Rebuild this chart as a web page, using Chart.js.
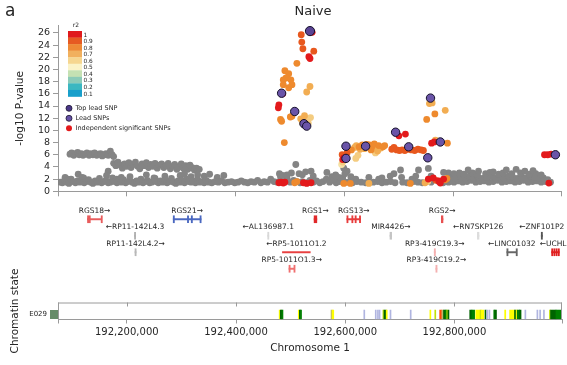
<!DOCTYPE html>
<html lang="en">
<head>
<meta charset="UTF-8">
<title>Naive</title>
<script src="https://cdn.jsdelivr.net/npm/chart.js"></script>
<style>
  body { margin: 0; background: #fff; }
  #wrap { position: relative; width: 567px; height: 365px; overflow: hidden; }
  canvas { position: absolute; left: 0; }
</style>
</head>
<body>
<div id="wrap">
  <canvas id="stateChart" width="567" height="115" style="top:250px"></canvas>
  <canvas id="geneChart" width="567" height="84" style="top:196px"></canvas>
  <canvas id="assocChart" width="567" height="200" style="top:0"></canvas>
</div>
<script>
// positions are in kb on chromosome 1
const X_MIN = 192074, X_MAX = 192997;
const xTickValues = [192200, 192400, 192600, 192800];
const yTickValues = [0, 2, 4, 6, 8, 10, 12, 14, 16, 18, 20, 22, 24, 26];

// [kb, -log10 P]
const topLeadSnp = [[192536, 26.3]];
const leadSnps = [[192484, 16.1], [192508, 13.1], [192525, 11.1], [192530, 10.7], [192602, 7.4], [192602, 5.4],
  [192638, 7.4], [192693, 9.7], [192717, 7.3], [192752, 5.5], [192757, 15.3], [192775, 8.1], [192986, 6.0]];
const r2_10 = [[192538, 26.2], [192540, 26.1], [192534, 22.1], [192536, 21.8], [192486, 16.0], [192479, 14.2],
  [192478, 13.7], [192479, 1.4], [192483, 1.5], [192487, 1.35], [192490, 1.5], [192524, 1.4], [192530, 1.3],
  [192538, 1.4], [192598, 5.5], [192596, 5.2], [192699, 9.1], [192711, 9.4], [192759, 7.9], [192764, 8.1],
  [192753, 2.0], [192762, 2.2], [192781, 2.0], [192775, 1.35], [192772, 1.7], [192966, 6.0], [192972, 6.0],
  [192978, 6.1], [192974, 1.35]];
const r2_09 = [[192520, 25.7], [192521, 24.5], [192523, 23.4], [192543, 23.0], [192686, 6.9], [192690, 7.2],
  [192695, 6.8], [192700, 6.7], [192705, 6.8], [192710, 6.7], [192716, 6.9], [192722, 6.8], [192728, 6.7],
  [192734, 6.9], [192740, 6.8], [192744, 6.7], [192604, 6.3], [192595, 6.0], [192767, 1.8], [192600, 5.8]];
const r2_08 = [[192512, 21.0], [192490, 19.8], [192497, 19.3], [192492, 18.6], [192501, 18.3], [192487, 18.3],
  [192487, 17.5], [192503, 17.5], [192497, 17.0], [192482, 11.8], [192484, 11.5], [192500, 12.2], [192503, 12.3],
  [192489, 8.0], [192612, 6.8], [192626, 7.3], [192632, 7.6], [192640, 7.7], [192645, 7.6], [192650, 7.4],
  [192654, 7.8], [192662, 7.5], [192670, 7.3], [192673, 7.5], [192648, 6.8], [192765, 12.7], [192750, 11.8],
  [192788, 7.9], [192508, 1.4], [192512, 1.6], [192598, 1.3], [192610, 1.3], [192720, 1.3], [192787, 2.1],
  [192784, 1.9]];
const r2_07 = [[192536, 17.2], [192530, 16.3], [192519, 11.9], [192526, 12.4], [192618, 7.2], [192621, 7.5],
  [192658, 7.2], [192666, 7.1], [192636, 7.0], [192628, 6.9], [192660, 6.6], [192755, 14.4], [192760, 14.5],
  [192766, 8.4], [192644, 1.3], [192747, 1.4], [192784, 13.3]];
const r2_06 = [[192522, 11.3], [192537, 12.1], [192533, 11.2], [192528, 11.8], [192620, 5.4], [192624, 5.9],
  [192656, 6.3], [192596, 4.8], [192752, 1.6]];
const r2_05 = [[192594, 4.4]];
const otherSnps = [
  [192096, 6.1], [192099, 6.3], [192103, 5.9], [192106, 6.2], [192110, 6.4], [192113, 6.0], [192117, 6.2],
  [192120, 5.9], [192124, 6.1], [192127, 6.3], [192131, 5.9], [192134, 6.2], [192138, 6.0], [192141, 6.3],
  [192145, 5.9], [192148, 6.1], [192152, 6.2], [192155, 5.8], [192159, 6.0], [192162, 6.2], [192166, 5.9],
  [192170, 6.6], [192173, 6.0], [192176, 5.7],
  [192176, 4.6], [192180, 4.2], [192184, 4.8], [192188, 4.3], [192192, 3.8], [192196, 4.5], [192200, 4.1],
  [192204, 4.7], [192208, 3.9], [192212, 4.4], [192216, 4.8], [192220, 4.1], [192224, 3.7], [192228, 4.5],
  [192232, 4.2], [192236, 4.7], [192240, 3.9], [192244, 4.4], [192248, 4.1], [192252, 4.6], [192256, 3.8],
  [192260, 4.3], [192264, 4.5], [192268, 3.9], [192272, 4.2], [192276, 4.6], [192280, 3.7], [192284, 4.1],
  [192288, 4.4], [192292, 3.6], [192296, 4.0], [192300, 4.5], [192304, 3.8], [192308, 4.2], [192312, 3.6],
  [192316, 4.3], [192320, 3.9], [192324, 3.5], [192328, 3.8], [192333, 3.6],
  [192087, 2.3], [192092, 2.0], [192111, 2.8], [192121, 2.2], [192166, 3.3], [192163, 2.6], [192182, 2.0],
  [192190, 2.3], [192236, 2.7], [192252, 2.1], [192270, 2.5], [192298, 2.6], [192306, 2.9], [192318, 2.4],
  [192330, 2.7], [192342, 2.5], [192352, 2.8], [192366, 2.3], [192378, 2.6],
  [192078, 1.5], [192082, 1.4], [192086, 1.8], [192090, 1.5], [192094, 1.3], [192098, 2.0], [192102, 1.6],
  [192106, 1.4], [192110, 1.7], [192114, 1.5], [192118, 2.3], [192122, 1.4], [192126, 1.6], [192130, 1.9],
  [192134, 1.5], [192138, 1.3], [192142, 1.7], [192146, 1.5], [192150, 2.1], [192154, 1.4], [192158, 1.6],
  [192162, 1.8], [192166, 1.4], [192170, 1.5], [192174, 2.2], [192178, 1.6], [192182, 1.4], [192186, 1.7],
  [192190, 1.5], [192194, 1.9], [192198, 1.4], [192202, 1.6], [192206, 2.4], [192210, 1.5], [192214, 1.3],
  [192218, 1.7], [192222, 1.5], [192226, 2.0], [192230, 1.4], [192234, 1.6], [192238, 1.8], [192242, 1.4],
  [192246, 1.5], [192250, 2.2], [192254, 1.6], [192258, 1.4], [192262, 1.7], [192266, 1.5], [192270, 1.9],
  [192274, 1.4], [192278, 1.6], [192282, 2.1], [192286, 1.5], [192290, 1.3], [192294, 1.7], [192298, 1.5],
  [192302, 1.8], [192306, 1.4], [192310, 2.0], [192314, 1.6], [192318, 1.5], [192322, 1.7], [192326, 1.4],
  [192330, 1.9], [192334, 1.5], [192338, 1.6], [192342, 1.4], [192346, 1.8], [192350, 1.5], [192356, 1.4],
  [192362, 1.6], [192368, 1.5], [192374, 1.7], [192380, 1.4], [192386, 1.5], [192392, 1.6], [192398, 1.4],
  [192404, 1.5], [192410, 1.7], [192416, 1.5], [192422, 1.4], [192428, 1.6], [192434, 1.5], [192440, 1.8],
  [192446, 1.4], [192452, 1.6], [192458, 1.5], [192464, 2.0], [192470, 1.6], [192476, 1.5], [192482, 2.4],
  [192488, 1.6], [192494, 2.1], [192500, 1.5], [192506, 1.8], [192512, 1.6], [192518, 1.4],
  [192480, 2.9], [192486, 2.6], [192494, 2.7], [192502, 3.0], [192510, 4.4], [192516, 2.9], [192522, 2.7],
  [192528, 3.2], [192538, 3.3], [192542, 2.5],
  [192522, 1.6], [192530, 1.4], [192536, 1.8], [192542, 1.5], [192548, 1.7], [192554, 1.4], [192560, 1.6],
  [192566, 2.0], [192572, 1.5], [192578, 1.8], [192584, 1.4], [192590, 1.6], [192596, 2.2], [192600, 1.5],
  [192567, 3.1], [192576, 2.4], [192583, 2.7], [192589, 2.3], [192598, 3.8], [192604, 3.3], [192600, 2.9],
  [192580, 2.0], [192584, 2.5], [192611, 2.4], [192620, 2.0], [192644, 2.3], [192662, 2.0], [192668, 2.2],
  [192683, 2.5], [192690, 2.9], [192702, 3.5], [192704, 2.3], [192723, 2.0], [192730, 2.5], [192735, 3.5],
  [192753, 3.75], [192758, 2.5], [192790, 3.0], [192799, 2.5],
  [192606, 1.5], [192614, 1.4], [192622, 1.6], [192630, 1.5], [192638, 1.4], [192652, 1.5], [192660, 1.6],
  [192668, 1.4], [192676, 1.5], [192684, 1.6], [192692, 1.4], [192706, 1.5], [192714, 1.4], [192726, 1.6],
  [192734, 1.5], [192742, 1.4], [192758, 1.5], [192772, 1.6], [192780, 1.4], [192790, 1.5],
  [192792, 1.6], [192800, 1.5], [192808, 1.7], [192816, 1.5], [192824, 1.6], [192832, 1.8], [192840, 1.5],
  [192848, 1.6], [192856, 1.7], [192864, 1.5], [192872, 1.6], [192880, 1.8], [192888, 1.5], [192896, 1.6],
  [192904, 1.7], [192912, 1.5], [192920, 1.6], [192928, 1.8], [192936, 1.5], [192944, 1.6], [192952, 1.7],
  [192960, 1.5], [192968, 1.6], [192977, 1.5],
  [192796, 2.3], [192804, 2.1], [192812, 2.4], [192820, 2.2], [192828, 2.5], [192836, 2.2], [192844, 2.4],
  [192852, 2.1], [192860, 2.3], [192868, 2.5], [192876, 2.2], [192884, 2.4], [192892, 2.2], [192900, 2.5],
  [192908, 2.3], [192916, 2.1], [192924, 2.4], [192932, 2.2], [192940, 2.5], [192948, 2.3], [192956, 2.1],
  [192964, 2.2], [192972, 1.9],
  [192800, 2.9], [192810, 3.0], [192818, 2.8], [192834, 3.0], [192842, 2.8], [192858, 2.9], [192866, 3.1],
  [192882, 2.8], [192890, 3.0], [192906, 2.9], [192922, 3.0], [192938, 2.8], [192950, 2.9], [192960, 2.7],
  [192781, 3.1], [192826, 3.5], [192845, 3.3], [192872, 3.2], [192896, 3.5], [192914, 3.6], [192930, 3.3],
  [192945, 3.4]
];

const r2Labels = ['1', '0.9', '0.8', '0.7', '0.6', '0.5', '0.4', '0.3', '0.2', '0.1'];
const r2Colors = ['#e0191c', '#e65a22', '#ee8a36', '#f1b05e', '#f6d690', '#fbf3c8', '#c5e1b3', '#8ccbb8', '#3bb7c1', '#189fcb'];
const legendLabels = ['Top lead SNP', 'Lead SNPs', 'Independent significant SNPs'];

// genes: label, start, end (kb), track row
const geneNames = ['RGS18→', 'RGS21→', 'RGS1→', 'RGS13→', 'RGS2→', '←RP11-142L4.3', '←AL136987.1', 'MIR4426→',
  '←RN7SKP126', '←ZNF101P2', 'RP11-142L4.2→', '←RP5-1011O1.2', 'RP3-419C19.3→', '←LINC01032', '←UCHL1',
  'RP5-1011O1.3→', 'RP3-419C19.2→'];
const geneStart = [192128, 192285, 192543, 192603, 192776, 192214, 192458, 192682, 192842, 192959, 192215,
  192485, 192763, 192896, 192978, 192497, 192766];
const geneEnd = [192154, 192336, 192548, 192628, 192779, 192216, 192460, 192685, 192845, 192961, 192217,
  192536, 192765, 192914, 192992, 192507, 192768];
const geneRow = [1, 1, 1, 1, 1, 2, 2, 2, 2, 2, 3, 3, 3, 3, 3, 4, 4];
const geneColor = ['#e85c5c', '#4a68c0', '#e0282a', '#e83c3c', '#e85050', '#b0b0b0', '#d8d8d8', '#c4c4c4',
  '#dcdcdc', '#555555', '#b8b8b8', '#e84040', '#f4b0b0', '#666666', '#e02020', '#f07070', '#f4b0b0'];
// exons: [gene index, start, end]
const exons = [[0, 192128, 192129], [0, 192131, 192132], [0, 192153, 192154],
  [1, 192285, 192286], [1, 192311, 192312], [1, 192318, 192319], [1, 192334, 192336],
  [2, 192543, 192548], [3, 192603, 192605], [3, 192612, 192614], [3, 192618, 192619], [3, 192626, 192628],
  [4, 192776, 192779], [5, 192214, 192216], [6, 192458, 192460], [7, 192682, 192685], [8, 192842, 192845],
  [9, 192959, 192961], [10, 192215, 192217], [12, 192763, 192765], [13, 192896, 192897], [13, 192913, 192914],
  [14, 192978, 192980], [14, 192982, 192984], [14, 192986, 192987], [14, 192990, 192992],
  [15, 192497, 192498], [15, 192506, 192507], [16, 192766, 192768]];

// chromatin state segments (E029)
const trackLabel = 'E029';
const stateStart = [192479, 192481, 192484, 192514, 192516, 192518, 192574, 192576, 192634, 192655, 192659, 192662,
  192669, 192671, 192675, 192682, 192719, 192755, 192764, 192773, 192777, 192780, 192783, 192786, 192788,
  192828, 192832, 192839, 192847, 192849, 192856, 192859, 192863, 192872, 192874, 192892, 192901, 192910,
  192913, 192915, 192919, 192929, 192951, 192956, 192963, 192974, 192976, 192986];
const stateEnd = [192481, 192484, 192486, 192516, 192518, 192520, 192576, 192579, 192635, 192656, 192660, 192663,
  192671, 192675, 192677, 192683, 192720, 192756, 192765, 192777, 192780, 192783, 192786, 192788, 192790,
  192832, 192837, 192847, 192849, 192854, 192858, 192860, 192865, 192874, 192877, 192894, 192910, 192913,
  192915, 192919, 192922, 192930, 192952, 192957, 192964, 192976, 192986, 192997];
const stateName = ['Enh', 'TxWk', 'Tx', 'Enh', 'TxWk', 'Tx', 'EnhBiv', 'Enh', 'Het', 'Het', 'Het', 'Het',
  'EnhG', 'TxWk', 'Enh', 'Het', 'Het', 'Enh', 'EnhG', 'TssAFlnk', 'EnhBiv', 'TxWk', 'Tx', 'EnhG', 'TxWk',
  'TxWk', 'Tx', 'Enh', 'EnhG', 'Enh', 'TxWk', 'Het', 'Het', 'Tx', 'TxWk', 'Enh', 'Enh', 'TxWk',
  'Enh', 'Tx', 'TxWk', 'Het', 'Het', 'Het', 'Het', 'EnhG', 'TxWk', 'Tx'];
const stateColors = { TssAFlnk: '#ff4500', Tx: '#008000', TxWk: '#006400', EnhG: '#c2e105', Enh: '#ffff00',
  EnhBiv: '#bdb76b', Het: '#b0b5e0' };

Chart.defaults.font.family = "'DejaVu Sans', sans-serif";
Chart.defaults.color = '#262626';
const AXIS = '#9a9a9a';
const TRACK_Y = 5;

function setXTicks(scale) {
    scale.ticks = [X_MIN, ...xTickValues, X_MAX].map(v => ({ value: v }));
}

function pts(list) {
    return list.map(p => ({ x: p[0], y: p[1] }));
}

function snpSet(list, color, radius, border) {
    return {
        data: pts(list),
        pointRadius: radius,
        pointBackgroundColor: color,
        pointBorderColor: border || color,
        pointBorderWidth: border ? 1 : 0
    };
}

// ---- association plot ----
const assocDecor = {
    id: 'assocDecor',
    afterDraw(chart) {
        const ctx = chart.ctx;
        ctx.save();
        ctx.fillStyle = '#262626';
        ctx.textBaseline = 'middle';
        ctx.textAlign = 'left';
        ctx.font = "17px 'DejaVu Sans'";
        ctx.fillText('a', 5, 12);
        ctx.textAlign = 'center';
        ctx.font = "13px 'DejaVu Sans'";
        ctx.fillText('Naive', 313, 12);

        // r2 colour bar
        ctx.font = "6px 'DejaVu Sans'";
        ctx.fillText('r2', 76, 25.5);
        const cell = 6.55;
        r2Colors.forEach((c, i) => {
            ctx.fillStyle = c;
            ctx.fillRect(68, 31 + i * cell, 14, cell + 0.3);
        });
        ctx.fillStyle = '#262626';
        ctx.textAlign = 'left';
        ctx.font = "5.8px 'DejaVu Sans'";
        r2Labels.forEach((t, i) => ctx.fillText(t, 83.5, 31 + i * cell + cell / 2 + 0.8));

        // marker legend
        const fills = ['#4a3787', '#6652a6', '#e31a1c'];
        ctx.font = "6.5px 'DejaVu Sans'";
        legendLabels.forEach((t, i) => {
            const y = 108.3 + i * 10;
            ctx.beginPath();
            ctx.arc(69, y, 3, 0, Math.PI * 2);
            ctx.fillStyle = fills[i];
            ctx.fill();
            if (i < 2) {
                ctx.lineWidth = 0.8;
                ctx.strokeStyle = '#1a1530';
                ctx.stroke();
            }
            ctx.fillStyle = '#262626';
            ctx.fillText(t, 75.5, y + 0.5);
        });
        ctx.restore();
    }
};

new Chart(document.getElementById('assocChart'), {
    type: 'scatter',
    data: {
        datasets: [
            snpSet(topLeadSnp, '#5a4494', 4.6, '#15102a'),
            snpSet(leadSnps, '#6a54a8', 4.2, '#15102a'),
            snpSet(r2_10, '#e31a1c', 3.4),
            snpSet(r2_09, '#e8581e', 3.4),
            snpSet(r2_08, '#ee8a2e', 3.4),
            snpSet(r2_07, '#f2ad52', 3.4),
            snpSet(r2_06, '#f4cc80', 3.4),
            snpSet(r2_05, '#f6e2a8', 3.4),
            snpSet(otherSnps, '#848484', 3.4)
        ]
    },
    options: {
        responsive: false,
        animation: false,
        layout: { padding: { top: 25.6, right: 5, left: 0, bottom: 0 } },
        plugins: { legend: { display: false }, tooltip: { enabled: false } },
        scales: {
            x: {
                type: 'linear',
                min: X_MIN,
                max: X_MAX,
                afterBuildTicks: setXTicks,
                ticks: { display: false },
                grid: { drawOnChartArea: false, tickLength: 5, color: AXIS },
                border: { color: AXIS },
                afterFit: s => { s.height = 7.7; }
            },
            y: {
                min: 0,
                max: 27.2,
                afterBuildTicks: s => { s.ticks = yTickValues.map(v => ({ value: v })); },
                ticks: { font: { size: 9.5 }, padding: 3, color: '#262626', autoSkip: false },
                grid: { drawOnChartArea: false, tickLength: 5, color: AXIS },
                border: { color: AXIS },
                title: { display: true, text: '-log10 P-value', font: { size: 10.5 }, padding: { top: 14, bottom: 0 } },
                afterFit: s => { s.width = 58; }
            }
        }
    },
    plugins: [assocDecor]
});

// ---- gene track ----
const geneLabelsPlugin = {
    id: 'geneLabels',
    afterDatasetsDraw(chart) {
        const { ctx, scales: { x, y } } = chart;
        ctx.save();
        ctx.font = "7.5px 'DejaVu Sans'";
        ctx.fillStyle = '#262626';
        ctx.textAlign = 'center';
        ctx.textBaseline = 'middle';
        geneNames.forEach((name, i) => {
            const cx = (x.getPixelForValue(geneStart[i]) + x.getPixelForValue(geneEnd[i])) / 2;
            ctx.fillText(name, cx, y.getPixelForValue(geneRow[i]) - 8.5);
        });
        ctx.restore();
    }
};

new Chart(document.getElementById('geneChart'), {
    type: 'bar',
    data: {
        datasets: [
            {
                data: geneStart.map((s, i) => ({ x: [s, geneEnd[i]], y: geneRow[i] })),
                backgroundColor: geneColor,
                barThickness: 1.3,
                minBarLength: 1,
                grouped: false
            },
            {
                data: exons.map(e => ({ x: [e[1], e[2]], y: geneRow[e[0]] })),
                backgroundColor: exons.map(e => geneColor[e[0]]),
                barThickness: 7,
                minBarLength: 1.2,
                grouped: false
            }
        ]
    },
    options: {
        indexAxis: 'y',
        responsive: false,
        animation: false,
        layout: { padding: { top: 15, bottom: 3, left: 58, right: 5 } },
        plugins: { legend: { display: false }, tooltip: { enabled: false } },
        scales: {
            x: { type: 'linear', min: X_MIN, max: X_MAX, display: false },
            y: { type: 'linear', min: 0.5, max: 4.5, reverse: true, offset: false, display: false }
        }
    },
    plugins: [geneLabelsPlugin]
});

// ---- chromatin state track ----
const stateFrame = {
    id: 'stateFrame',
    afterDraw(chart) {
        const { ctx, chartArea: a, scales: { x, y } } = chart;
        ctx.save();
        ctx.strokeStyle = AXIS;
        ctx.lineWidth = 1;
        ctx.beginPath();
        ctx.moveTo(a.left, a.top + 0.5);
        ctx.lineTo(a.right, a.top + 0.5);
        ctx.moveTo(a.left + 0.5, a.top);
        ctx.lineTo(a.left + 0.5, a.bottom);
        ctx.moveTo(a.right - 0.5, a.top);
        ctx.lineTo(a.right - 0.5, a.bottom);
        xTickValues.forEach(v => {
            const px = Math.round(x.getPixelForValue(v)) + 0.5;
            ctx.moveTo(px, a.top);
            ctx.lineTo(px, a.top + 4);
        });
        ctx.stroke();
        // epigenome group swatch
        const cy = y.getPixelForValue(TRACK_Y);
        ctx.fillStyle = '#678c69';
        ctx.fillRect(50, cy - 4.5, 8, 9);
        ctx.restore();
    }
};

new Chart(document.getElementById('stateChart'), {
    type: 'bar',
    data: {
        datasets: [{
            data: stateStart.map((s, i) => ({ x: [s, stateEnd[i]], y: TRACK_Y })),
            backgroundColor: stateName.map(n => stateColors[n]),
            barThickness: 9,
            minBarLength: 1,
            grouped: false
        }]
    },
    options: {
        indexAxis: 'y',
        responsive: false,
        animation: false,
        layout: { padding: { top: 52.5, left: 0, right: 5, bottom: 0 } },
        plugins: { legend: { display: false }, tooltip: { enabled: false } },
        scales: {
            x: {
                type: 'linear',
                min: X_MIN,
                max: X_MAX,
                afterBuildTicks: setXTicks,
                ticks: {
                    autoSkip: false,
                    maxRotation: 0,
                    padding: 3,
                    font: { size: 10 },
                    color: '#262626',
                    callback: v => xTickValues.includes(v) ? (v * 1000).toLocaleString('en-US') : ''
                },
                grid: { drawOnChartArea: false, tickLength: 4, color: AXIS },
                border: { color: AXIS },
                title: { display: true, text: 'Chromosome 1', font: { size: 10.5 }, padding: { top: 10, bottom: 10 } },
                afterFit: s => { s.height = 45.5; }
            },
            y: {
                type: 'linear',
                min: 0,
                max: 17,
                offset: false,
                afterBuildTicks: s => { s.ticks = [{ value: TRACK_Y }]; },
                ticks: { callback: () => trackLabel, font: { size: 7 }, padding: 11, color: '#262626' },
                grid: { display: false, drawTicks: false },
                border: { display: false },
                title: { display: true, text: 'Chromatin state', font: { size: 10.5 }, padding: { top: 9, bottom: 0 } },
                afterFit: s => { s.width = 58; }
            }
        }
    },
    plugins: [stateFrame]
});
</script>
</body>
</html>
